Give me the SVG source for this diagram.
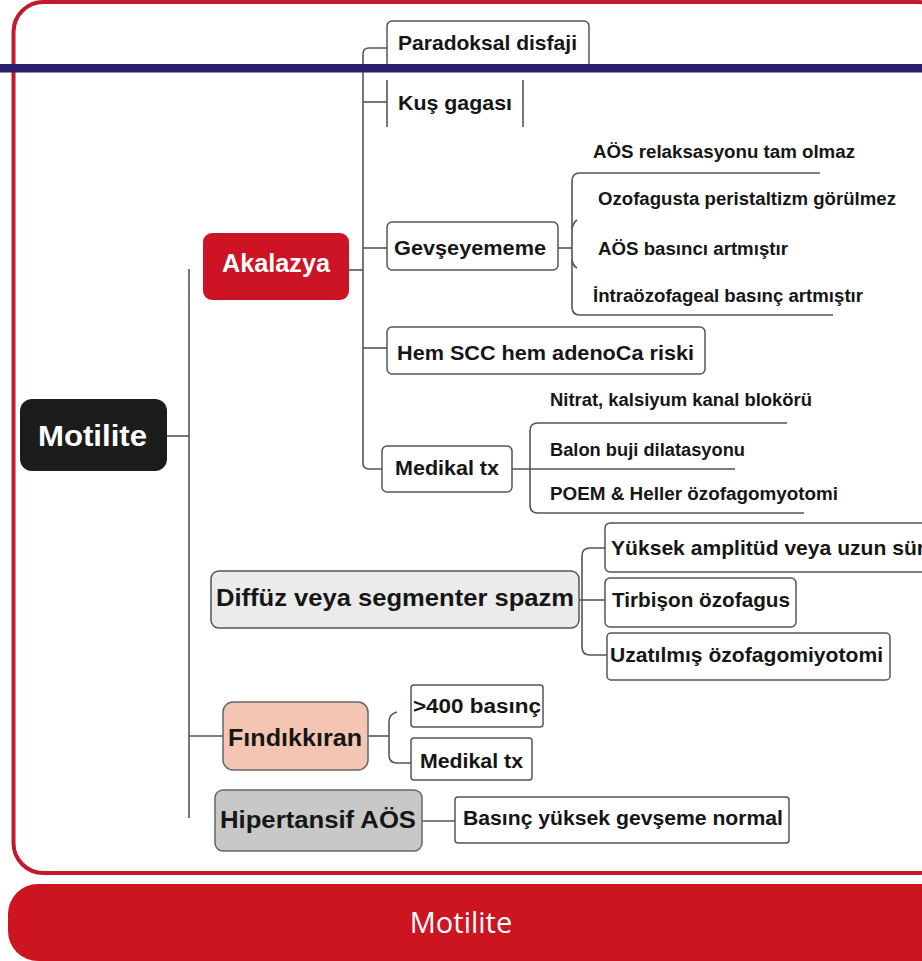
<svg xmlns="http://www.w3.org/2000/svg" width="922" height="961" viewBox="0 0 922 961">
<defs>
<style>
.bg{fill:#ffffff}
.frame{fill:none;stroke:#c2192c;stroke-width:4}
.banner{fill:#cc1520}
.bannertxt{font-family:"Open Sans","Liberation Sans",sans-serif;font-size:29px;fill:#ffffff;text-anchor:middle}
.conn{fill:none;stroke:#555555;stroke-width:1.6}
.box{fill:#ffffff;stroke:#555555;stroke-width:1.5}
.t{font-family:"Liberation Sans",Arial,sans-serif;font-weight:700;fill:#161616}
.w{fill:#ffffff}
.s21{font-size:21px}
.s18{font-size:18px}
.blue{fill:#2b1c6c}
</style>
</defs>
<rect class="bg" x="0" y="0" width="922" height="961"/>
<rect class="frame" x="13.5" y="2" width="935" height="871" rx="30"/>

<g id="connectors">
  <path class="conn" d="M189 269 V818"/>
  <path class="conn" d="M167 436 H189"/>
  <path class="conn" d="M189 736 H223"/>
  <path class="conn" d="M349 270 H363"/>
  <path class="conn" d="M387 48 H369 Q363 48 363 54 V463 Q363 469 369 469 H382"/>
  <path class="conn" d="M363 102 H387"/>
  <path class="conn" d="M363 248 H387"/>
  <path class="conn" d="M363 348 H387"/>
  <path class="conn" d="M558 248 H572"/>
  <path class="conn" d="M820 173 H580 Q572 173 572 181 V307 Q572 315 580 315 H833"/>
  <path class="conn" d="M572 229 Q573 223 577 220"/>
  <path class="conn" d="M572 260 Q573 266 577 268"/>
  <path class="conn" d="M512 469 H735"/>
  <path class="conn" d="M787 423 H538 Q530 423 530 431 V505 Q530 513 538 513 H804"/>
  <path class="conn" d="M579 600 H605"/>
  <path class="conn" d="M605 548 H590 Q582 548 582 556 V647 Q582 655 590 655 H607"/>
  <path class="conn" d="M368 736 H389"/>
  <path class="conn" d="M397 712 Q389 714 389 722 V755 Q389 763 397 763 H411"/>
  <path class="conn" d="M422 821 H455"/>
</g>

<g id="n-motilite">
  <rect x="20" y="399" width="147" height="72" rx="12" fill="#1c1c1c"/>
  <text class="t w" x="38" y="446" font-size="29" textLength="109" lengthAdjust="spacingAndGlyphs">Motilite</text>
</g>
<g id="n-akalazya">
  <rect x="203" y="233" width="146" height="67" rx="9" fill="#cc1424"/>
  <text class="t w" x="222" y="272" font-size="25" textLength="108" lengthAdjust="spacingAndGlyphs">Akalazya</text>
</g>
<g id="n-paradoksal">
  <rect class="box" x="387" y="21" width="202" height="47" rx="5"/>
  <text class="t s21" x="398" y="50" textLength="179" lengthAdjust="spacingAndGlyphs">Paradoksal disfaji</text>
</g>
<g id="n-kus">
  <path class="conn" d="M387 80 V127 M523 80 V127"/>
  <text class="t s21" x="398" y="110" textLength="114" lengthAdjust="spacingAndGlyphs">Kuş gagası</text>
</g>
<g id="n-gevseyememe">
  <rect class="box" x="387" y="222" width="171" height="48" rx="5"/>
  <text class="t s21" x="394" y="255" textLength="152" lengthAdjust="spacingAndGlyphs">Gevşeyememe</text>
</g>
<g id="n-aos-relaks">
  <text class="t s18" x="593" y="158" textLength="262" lengthAdjust="spacingAndGlyphs">AÖS relaksasyonu tam olmaz</text>
</g>
<g id="n-ozofagus-peristaltizm">
  <text class="t s18" x="598" y="205" textLength="298" lengthAdjust="spacingAndGlyphs">Ozofagusta peristaltizm görülmez</text>
</g>
<g id="n-aos-basinci">
  <text class="t s18" x="598" y="255" textLength="190" lengthAdjust="spacingAndGlyphs">AÖS basıncı artmıştır</text>
</g>
<g id="n-intraozofageal">
  <text class="t s18" x="593" y="302" textLength="270" lengthAdjust="spacingAndGlyphs">İntraözofageal basınç artmıştır</text>
</g>
<g id="n-hemscc">
  <rect class="box" x="387" y="327" width="318" height="47" rx="5"/>
  <text class="t s21" x="397" y="360" textLength="297" lengthAdjust="spacingAndGlyphs">Hem SCC hem adenoCa riski</text>
</g>
<g id="n-medikal1">
  <rect class="box" x="382" y="446" width="130" height="46" rx="5"/>
  <text class="t s21" x="395" y="475" textLength="104" lengthAdjust="spacingAndGlyphs">Medikal tx</text>
</g>
<g id="n-nitrat">
  <text class="t s18" x="550" y="406" textLength="262" lengthAdjust="spacingAndGlyphs">Nitrat, kalsiyum kanal blokörü</text>
</g>
<g id="n-balon">
  <text class="t s18" x="550" y="456" textLength="195" lengthAdjust="spacingAndGlyphs">Balon buji dilatasyonu</text>
</g>
<g id="n-poem">
  <text class="t s18" x="550" y="500" textLength="288" lengthAdjust="spacingAndGlyphs">POEM &amp; Heller özofagomyotomi</text>
</g>
<g id="n-diffuz">
  <rect x="211" y="571" width="368" height="57" rx="8" fill="#ebebeb" stroke="#555555" stroke-width="1.5"/>
  <text class="t" x="216" y="606" font-size="24" textLength="358" lengthAdjust="spacingAndGlyphs">Diffüz veya segmenter spazm</text>
</g>
<g id="n-yuksek">
  <rect class="box" x="605" y="523" width="340" height="49" rx="5"/>
  <text class="t" x="611" y="555" font-size="21" textLength="314" lengthAdjust="spacingAndGlyphs">Yüksek amplitüd veya uzun sür</text>
</g>
<g id="n-tirbison">
  <rect class="box" x="605" y="578" width="191" height="49" rx="5"/>
  <text class="t" x="612" y="607" font-size="21" textLength="178" lengthAdjust="spacingAndGlyphs">Tirbişon özofagus</text>
</g>
<g id="n-uzatilmis">
  <rect class="box" x="607" y="633" width="283" height="47" rx="4"/>
  <text class="t" x="610" y="662" font-size="21" textLength="273" lengthAdjust="spacingAndGlyphs">Uzatılmış özofagomiyotomi</text>
</g>
<g id="n-findikkiran">
  <rect x="223" y="702" width="145" height="68" rx="10" fill="#f5c5b4" stroke="#666666" stroke-width="1.5"/>
  <text class="t" x="228" y="746" font-size="23" textLength="134" lengthAdjust="spacingAndGlyphs">Fındıkkıran</text>
</g>
<g id="n-400">
  <rect class="box" x="411" y="685" width="132" height="42" rx="3"/>
  <text class="t" x="413" y="713" font-size="20" textLength="128" lengthAdjust="spacingAndGlyphs">&gt;400 basınç</text>
</g>
<g id="n-medikal2">
  <rect class="box" x="411" y="738" width="121" height="42" rx="3"/>
  <text class="t" x="420" y="768" font-size="20" textLength="103" lengthAdjust="spacingAndGlyphs">Medikal tx</text>
</g>
<g id="n-hipertansif">
  <rect x="215" y="790" width="207" height="61" rx="8" fill="#c8c8c8" stroke="#666666" stroke-width="1.5"/>
  <text class="t" x="220" y="828" font-size="23" textLength="196" lengthAdjust="spacingAndGlyphs">Hipertansif AÖS</text>
</g>
<g id="n-basinc">
  <rect class="box" x="455" y="797" width="334" height="46" rx="3"/>
  <text class="t" x="463" y="825" font-size="20" textLength="320" lengthAdjust="spacingAndGlyphs">Basınç yüksek gevşeme normal</text>
</g>

<rect class="blue" x="0" y="64" width="922" height="8.5"/>

<g id="banner">
  <rect class="banner" x="8" y="884" width="950" height="77" rx="30"/>
  <text class="bannertxt" x="461" y="933">Motilite</text>
</g>
</svg>
